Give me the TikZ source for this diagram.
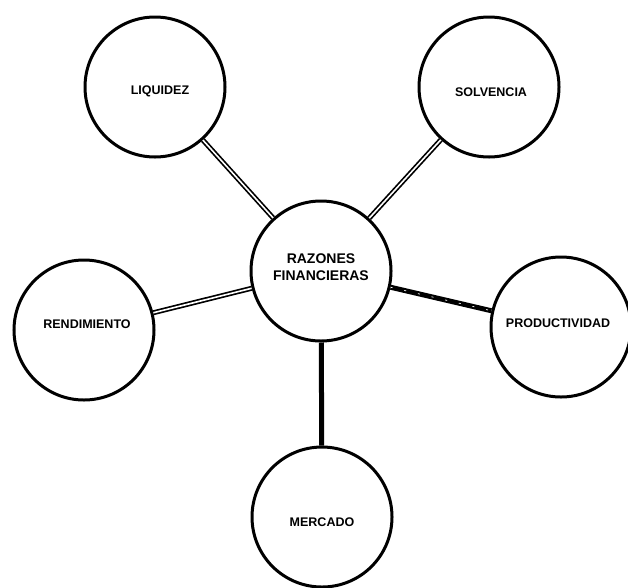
\documentclass[tikz,border=0pt]{standalone}
\usepackage{fontspec}
\setmainfont{Liberation Sans}
\newfontfamily\heavysans{Liberation Sans Bold}
\begin{document}
\begin{tikzpicture}[x=1pt,y=-1pt,
  bubble/.style={circle,draw,line width=3pt,minimum size=140pt,inner sep=0pt},
  lbl/.style={font=\heavysans\fontsize{12.5}{14}\selectfont,inner sep=0pt},
  hub/.style={font=\heavysans\fontsize{14}{17}\selectfont,align=center,inner sep=0pt},
  link/.style={double,line width=1.7pt,double distance=1.6pt},
  linkdark/.style={line width=5pt},
]
\useasboundingbox (0,0) rectangle (628,587);

% circles
\node[bubble] (cen) at (321,271) {};
\node[bubble] (liq) at (155,87) {};
\node[bubble] (sol) at (489,87) {};
\node[bubble] (ren) at (84,330) {};
\node[bubble] (pro) at (561,327) {};
\node[bubble] (mer) at (322,517) {};

% labels
\node[hub] (tcen) at (321,267) {RAZONES\\FINANCIERAS};
\node[lbl] (tliq) at (160,91) {LIQUIDEZ};
\node[lbl] (tsol) at (491,92) {SOLVENCIA};
\node[lbl] (tren) at (87,324) {RENDIMIENTO};
\node[lbl] (tpro) at (558,323) {PRODUCTIVIDAD};
\node[lbl] (tmer) at (322,522) {MERCADO};

% connectors
\draw[link] (cen) -- (liq);
\draw[link] (cen) -- (sol);
\draw[link] (cen) -- (ren);
\draw[linkdark] (cen) -- (pro);
\draw[white,line width=0.7pt,dash pattern=on 2pt off 12pt] (cen) -- (pro);
\draw[linkdark] (cen) -- (mer);
\end{tikzpicture}
\end{document}
